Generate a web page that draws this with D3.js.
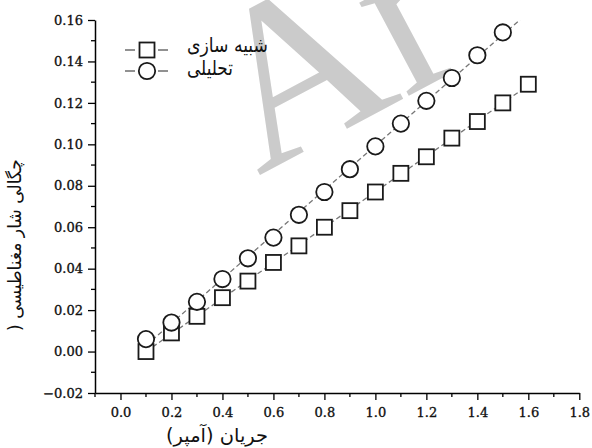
<!DOCTYPE html>
<html><head><meta charset="utf-8">
<script src="https://cdn.jsdelivr.net/npm/d3@7"></script>
<style>body{margin:0;background:#fff}</style></head>
<body>
<script>
// ---- data ----
const simX = [0.1,0.2,0.3,0.4,0.5,0.6,0.7,0.8,0.9,1.0,1.1,1.2,1.3,1.4,1.5,1.6];
const simY = [0.000,0.009,0.017,0.026,0.034,0.043,0.051,0.060,0.068,0.077,0.086,0.094,0.103,0.111,0.120,0.129];
const anaX = [0.1,0.2,0.3,0.4,0.5,0.6,0.7,0.8,0.9,1.0,1.1,1.2,1.3,1.4,1.5];
const anaY = [0.006,0.014,0.024,0.035,0.045,0.055,0.066,0.077,0.088,0.099,0.110,0.121,0.132,0.143,0.154];
const xTicks = [0.0,0.2,0.4,0.6,0.8,1.0,1.2,1.4,1.6,1.8];
const yTicks = [-0.02,0.00,0.02,0.04,0.06,0.08,0.10,0.12,0.14,0.16];
const legendLabels = ["شبیه سازی","تحلیلی"];
const xTitle = "جریان (آمپر)";
const yTitle = "چگالی شار مغناطیسی (";
const watermark = "Ar";

const W = 592, H = 448;
const svg = d3.select("body").append("svg").attr("width", W).attr("height", H)
  .style("font-family", "'DejaVu Serif', serif");

const x = d3.scaleLinear().domain([-0.1, 1.8]).range([95, 579.3]);
const y = d3.scaleLinear().domain([-0.02, 0.16]).range([393, 20]);

// watermark
svg.append("text").text(watermark)
  .attr("transform", "translate(258,176) rotate(-28)")
  .attr("font-family", "'Liberation Serif', serif")
  .attr("font-size", 230).attr("fill", "#cbcbcb");

// axes
const xAxis = d3.axisBottom(x).tickValues(xTicks).tickFormat(d3.format(".1f")).tickSize(7).tickPadding(5).tickSizeOuter(0);
const gx = svg.append("g").attr("transform", `translate(0,${y(-0.02)})`).call(xAxis);
const xMinor = d3.range(-1, 19).map(i => i / 10).filter(v => !xTicks.some(t => Math.abs(t - v) < 1e-9));
gx.selectAll(".minor").data(xMinor).join("line").attr("class", "minor")
  .attr("x1", d => x(d)).attr("x2", d => x(d)).attr("y1", 0).attr("y2", 4).attr("stroke", "#000").attr("stroke-width", 1.3);

const yAxis = d3.axisLeft(y).tickValues(yTicks).tickFormat(d3.format(".2f")).tickSize(7).tickPadding(5).tickSizeOuter(0);
const gy = svg.append("g").attr("transform", `translate(${x(-0.1)},0)`).call(yAxis);
const yMinor = d3.range(-2, 17).map(i => i / 100).filter(v => !yTicks.some(t => Math.abs(t - v) < 1e-9));
gy.selectAll(".minor").data(yMinor).join("line").attr("class", "minor")
  .attr("y1", d => y(d)).attr("y2", d => y(d)).attr("x1", 0).attr("x2", -4).attr("stroke", "#000").attr("stroke-width", 1.3);

[gx, gy].forEach(g => {
  g.selectAll(".domain").attr("stroke", "#000").attr("stroke-width", 1.5);
  g.selectAll(".tick line").attr("stroke", "#000").attr("stroke-width", 1.3);
  g.selectAll(".tick text").attr("font-family", "'DejaVu Serif', serif").attr("font-size", 13)
    .attr("fill", "#111").attr("stroke", "#111").attr("stroke-width", 0.35);
});
gx.selectAll(".tick text").attr("dy", "0.95em");

// fitted dashed lines (least squares through each series), clipped at plot area
svg.append("clipPath").attr("id", "plot").append("rect")
  .attr("x", x(-0.1)).attr("y", y(0.16)).attr("width", x(1.8) - x(-0.1)).attr("height", y(-0.02) - y(0.16));
function fit(xs, ys) {
  const mx = d3.mean(xs), my = d3.mean(ys);
  const b = d3.sum(xs, (v, i) => (v - mx) * (ys[i] - my)) / d3.sum(xs, v => (v - mx) ** 2);
  return v => my + b * (v - mx);
}
const fSim = fit(simX, simY), fAna = fit(anaX, anaY);
const gl = svg.append("g").attr("clip-path", "url(#plot)");
[[fSim, simX], [fAna, anaX]].forEach(([f, xs]) => {
  gl.append("line")
    .attr("x1", x(xs[0])).attr("y1", y(f(xs[0])))
    .attr("x2", x(1.6)).attr("y2", y(f(1.6)))
    .attr("stroke", "#777").attr("stroke-width", 1.3).attr("stroke-dasharray", "5,3");
});

// markers
const sq = 15, r = 8.2;
svg.append("g").selectAll("rect").data(simX).join("rect")
  .attr("x", (d) => x(d) - sq / 2).attr("y", (d, i) => y(simY[i]) - sq / 2)
  .attr("width", sq).attr("height", sq)
  .attr("fill", "#fff").attr("stroke", "#1a1a1a").attr("stroke-width", 1.8);
svg.append("g").selectAll("circle").data(anaX).join("circle")
  .attr("cx", d => x(d)).attr("cy", (d, i) => y(anaY[i])).attr("r", r)
  .attr("fill", "#fff").attr("stroke", "#1a1a1a").attr("stroke-width", 1.8);

// stretch a text horizontally to a target width (anchored at left edge x0)
function fitWidth(sel, x0, y0, target) {
  const w = sel.node().getBBox().width;
  const s = w > 0 ? target / w : 1;
  sel.attr("x", 0).attr("y", 0).attr("transform", `translate(${x0},${y0}) scale(${s},1)`);
}

// legend
const lg = svg.append("g");
const ly = [50, 71];
const lw = [81, 46];
ly.forEach((yy, i) => {
  lg.append("line").attr("x1", 125).attr("x2", 135).attr("y1", yy).attr("y2", yy).attr("stroke", "#555").attr("stroke-width", 1.3);
  lg.append("line").attr("x1", 158).attr("x2", 168).attr("y1", yy).attr("y2", yy).attr("stroke", "#555").attr("stroke-width", 1.3);
  if (i === 0) {
    lg.append("rect").attr("x", 147 - sq / 2).attr("y", yy - sq / 2).attr("width", sq).attr("height", sq)
      .attr("fill", "#fff").attr("stroke", "#1a1a1a").attr("stroke-width", 1.8);
  } else {
    lg.append("circle").attr("cx", 147).attr("cy", yy).attr("r", r)
      .attr("fill", "#fff").attr("stroke", "#1a1a1a").attr("stroke-width", 1.8);
  }
  const t = lg.append("text").text(legendLabels[i]).attr("dy", "0.35em")
    .attr("font-family", "'DejaVu Sans', sans-serif").attr("font-size", 20).attr("fill", "#111");
  fitWidth(t, 187, yy - (i === 0 ? 5 : 3), lw[i]);
});

// axis titles
const xt = svg.append("text").text(xTitle).attr("direction", "rtl")
  .attr("font-family", "'DejaVu Sans', sans-serif").attr("font-size", 19).attr("fill", "#111");
fitWidth(xt, 268, 442, 102);
const yt = svg.append("text").text(yTitle).attr("direction", "rtl")
  .attr("font-family", "'DejaVu Sans', sans-serif").attr("font-size", 18).attr("fill", "#111");
{
  const w = yt.node().getBBox().width;
  const s = 172 / w;
  yt.attr("x", 0).attr("y", 0).attr("text-anchor", "middle")
    .attr("transform", `translate(21,245) rotate(-90) scale(${s},1)`);
}
</script>
</body></html>
